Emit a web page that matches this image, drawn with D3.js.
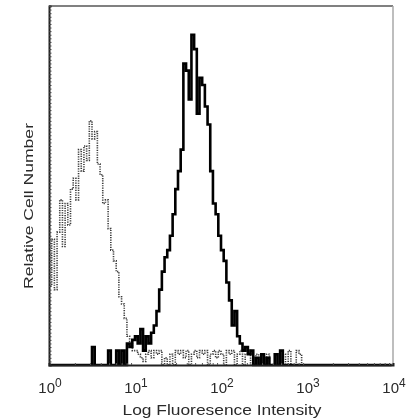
<!DOCTYPE html>
<meta charset="utf-8">
<html>

<head>
    <meta charset="UTF-8">
    <title>Flow histogram</title>
</head>
<style>
    body {
        margin: 0;
        background: #fff;
    }
</style>

<body>
    <!-- Create a div where the graph will take place -->
    <div id="my_dataviz"></div>

    <!-- Load d3.js -->
    <script src="https://d3js.org/d3.v7.min.js"></script>

    <script>
        // histogram bins: 128 channels over 4 decades (10^0 .. 10^4)
        var binCount = 128;
        var decades = [0, 4];
        var tickLabels = ["0", "1", "2", "3", "4"];

        // isotype control (dotted grey), counts per channel, rest are 0
        var isotypeCounts = [22, 35, 21, 37, 46, 33, 45, 39, 49, 52, 46, 60, 54, 61, 57, 68, 63, 65, 56, 53,
            45, 46, 38, 32, 29, 26, 19, 17, 13, 8, 6, 4, 4, 3, 2, 1, 3, 4, 2, 4,
            3, 4, 0, 2, 0, 3, 0, 4, 3, 4, 2, 4, 0, 3, 4, 2, 4, 3, 4, 0,
            3, 4, 2, 4, 3, 0, 4, 3, 4, 0, 3, 4, 0, 3, 4, 0, 0, 3, 0, 0,
            0, 3, 0, 0, 0, 0, 0, 3, 0, 4, 0, 0, 4, 3];

        // stained sample (solid black), counts per channel, rest are 0
        var stainedCounts = [0, 0, 0, 0, 0, 0, 0, 0, 0, 0, 0, 0, 0, 0, 0, 0, 5, 0, 0, 0,
            0, 0, 4, 0, 0, 4, 0, 4, 0, 6, 5, 7, 8, 6, 10, 4, 8, 6, 9, 11,
            15, 21, 26, 30, 32, 36, 42, 49, 54, 60, 84, 82, 74, 92, 88, 70, 80, 78, 72, 67,
            54, 45, 42, 36, 32, 29, 23, 18, 11, 15, 8, 6, 4, 5, 3, 4, 0, 2, 0, 3,
            0, 2, 0, 0, 3, 0, 4, 0];

        var yMax = 100;

        // set the dimensions and margins of the graph
        var margin = { top: 6, right: 26, bottom: 55, left: 49 },
            width = 419 - margin.left - margin.right,
            height = 420 - margin.top - margin.bottom;

        var root = d3.select("#my_dataviz")
            .append("svg")
            .attr("width", 419)
            .attr("height", 420);

        // the original is a soft scan, so blur a tiny bit
        root.append("defs")
            .append("filter")
            .attr("id", "soft")
            .append("feGaussianBlur")
            .attr("stdDeviation", 0.45);

        var svg = root.append("g")
            .attr("filter", "url(#soft)")
            .attr("transform", "translate(" + margin.left + "," + margin.top + ")");

        var x = d3.scaleLog()
            .domain([Math.pow(10, decades[0]), Math.pow(10, decades[1])])
            .range([0, width]);

        var y = d3.scaleLinear()
            .domain([0, yMax])
            .range([height, 0]);

        // channel index -> value at the channel centre
        var step = (decades[1] - decades[0]) / binCount;
        function toPoints(counts) {
            var pts = [];
            for (var i = 0; i < binCount; i++) {
                pts.push({ v: Math.pow(10, decades[0] + (i + 0.5) * step), c: i < counts.length ? counts[i] : 0 });
            }
            return pts;
        }

        var line = d3.line()
            .x(function (d) { return x(d.v); })
            .y(function (d) { return y(d.c); })
            .curve(d3.curveStep);

        // frame (top / right lighter)
        svg.append("line")
            .attr("x1", 0).attr("x2", width).attr("y1", 0).attr("y2", 0)
            .attr("stroke", "#808080").attr("stroke-width", 2);
        svg.append("line")
            .attr("x1", width).attr("x2", width).attr("y1", 0).attr("y2", height)
            .attr("stroke", "#a8a8a8").attr("stroke-width", 1.5);

        // isotype histogram
        svg.append("path")
            .datum(toPoints(isotypeCounts))
            .attr("fill", "none")
            .attr("stroke", "#3a3a3a")
            .attr("stroke-width", 1.6)
            .attr("stroke-dasharray", "1.2,1.2")
            .attr("d", line);

        // stained histogram
        svg.append("path")
            .datum(toPoints(stainedCounts))
            .attr("fill", "none")
            .attr("stroke", "#000")
            .attr("stroke-width", 2.6)
            .attr("stroke-linejoin", "miter")
            .attr("d", line);

        // left axis: dense small ticks pointing inward
        var yAxis = svg.append("g")
            .call(d3.axisRight(y).tickValues(d3.range(0, yMax + 1, 1)).tickSize(2.5).tickFormat(""));
        yAxis.select(".domain").attr("stroke", "#222").attr("stroke-width", 2);
        yAxis.selectAll(".tick line").attr("stroke", "#444");

        // bottom axis: minor log ticks pointing inward, labels as 10^n
        var minor = [];
        for (var e = decades[0]; e < decades[1]; e++) {
            for (var k = 2; k <= 9; k++) minor.push(k * Math.pow(10, e));
        }
        var xAxis = svg.append("g")
            .attr("transform", "translate(0," + height + ")")
            .call(d3.axisTop(x).tickValues(minor).tickSize(2).tickFormat(""));
        xAxis.select(".domain").attr("stroke", "#222").attr("stroke-width", 2);
        xAxis.selectAll(".tick line").attr("stroke", "#555");

        var labels = svg.append("g")
            .selectAll("text")
            .data(tickLabels)
            .enter()
            .append("text")
            .attr("x", function (d) { return x(Math.pow(10, +d)) + 1; })
            .attr("y", height + 28)
            .attr("text-anchor", "middle")
            .attr("font-family", "Liberation Sans, Arial, sans-serif")
            .attr("font-size", 15)
            .attr("fill", "#2a2a2a");
        labels.append("tspan").text("10");
        labels.append("tspan")
            .attr("dy", -6)
            .attr("font-size", 12)
            .text(function (d) { return d; });

        // axis titles
        svg.append("text")
            .attr("x", width / 2 + 1)
            .attr("y", height + 50)
            .attr("text-anchor", "middle")
            .attr("font-family", "Liberation Sans, Arial, sans-serif")
            .attr("font-size", 14)
            .attr("textLength", 199)
            .attr("lengthAdjust", "spacingAndGlyphs")
            .attr("fill", "#2a2a2a")
            .text("Log Fluoresence Intensity");

        svg.append("text")
            .attr("transform", "translate(-16," + 200 + ")rotate(-90)")
            .attr("text-anchor", "middle")
            .attr("font-family", "Liberation Sans, Arial, sans-serif")
            .attr("font-size", 13)
            .attr("textLength", 166)
            .attr("lengthAdjust", "spacingAndGlyphs")
            .attr("fill", "#2a2a2a")
            .text("Relative Cell Number");
    </script>
</body>

</html>
